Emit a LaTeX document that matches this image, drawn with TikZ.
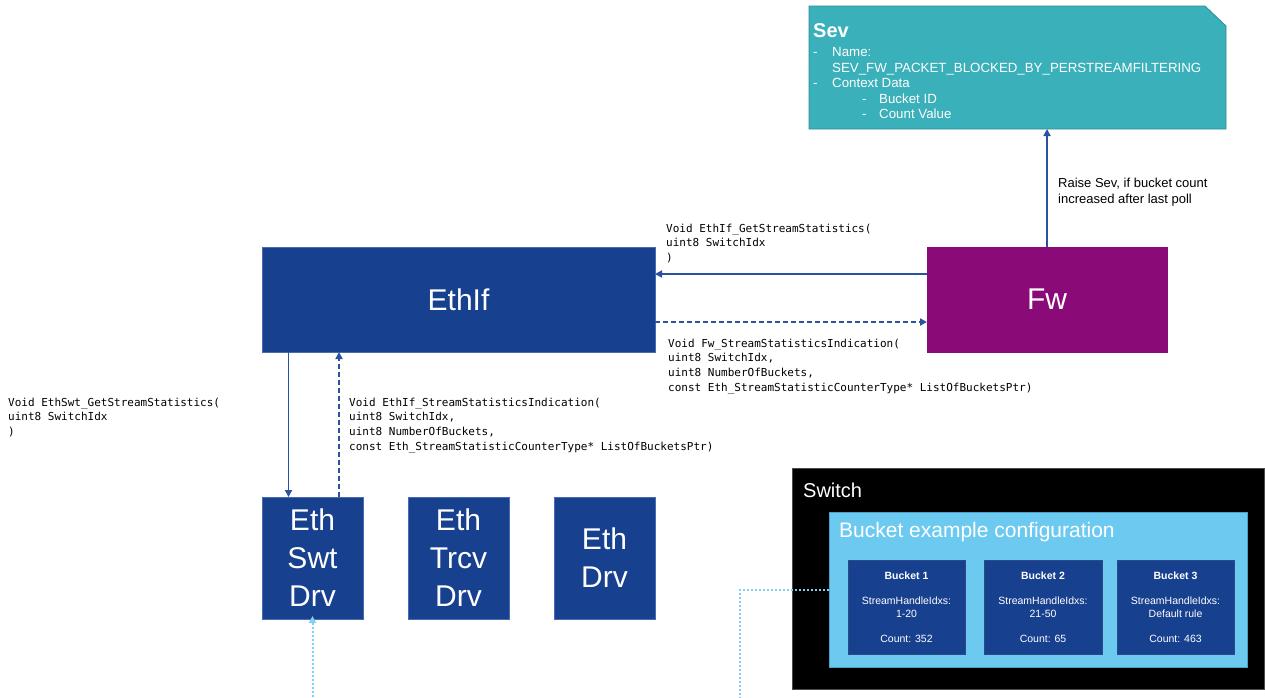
\documentclass[tikz,border=0pt]{standalone}
\usepackage{fontspec}
\setmainfont{Liberation Sans}
\newfontfamily\codefont{DejaVu Sans Mono}
\usetikzlibrary{arrows.meta,backgrounds,calc}

\definecolor{ethblue}{HTML}{17408F}
\definecolor{ethedge}{HTML}{4A6BB0}
\definecolor{bucketedge}{HTML}{2B4A8A}
\definecolor{fwpurple}{HTML}{8A0A78}
\definecolor{sevteal}{HTML}{3AB0BA}
\definecolor{sevedge}{HTML}{2E8C96}
\definecolor{cfgblue}{HTML}{6CCAF0}
\definecolor{cfgedge}{HTML}{4B9FC8}
\definecolor{linkblue}{HTML}{2A52A2}
\definecolor{dotblue}{HTML}{7FD0F2}

\tikzset{
  block/.style={fill=ethblue, draw=ethedge, line width=0.6pt, text=white,
    inner sep=0pt, outer sep=0pt, align=center,
    font=\fontsize{30}{38}\selectfont},
  bucket/.style={fill=ethblue, draw=bucketedge, line width=0.8pt, text=white,
    inner sep=0pt, outer sep=0pt, align=center,
    minimum width=117pt, minimum height=94pt,
    font=\fontsize{10.5}{12.7}\selectfont},
  sevtext/.style={text=white, inner sep=0pt, anchor=base west,
    font=\fontsize{13.3}{16}\selectfont},
  code/.style={inner sep=0pt, anchor=north west, align=left,
    font=\codefont\fontsize{11}{14.7}\selectfont},
  note/.style={inner sep=0pt, anchor=north west, align=left,
    font=\fontsize{13}{16}\selectfont},
  tip/.style={-{Triangle[length=7pt,width=7pt]}},
  call/.style={draw=linkblue, line width=1.7pt, tip},
  reply/.style={call, dash pattern=on 5pt off 3pt},
  feed/.style={draw=dotblue, line width=2pt, dash pattern=on 2pt off 2pt},
}

\begin{document}
\begin{tikzpicture}[x=1pt, y=-1pt]
\useasboundingbox (0,0) rectangle (1265,697);

% ---- Security event box with cut corner
\node[minimum width=417pt, minimum height=123pt, inner sep=0pt, outer sep=0pt]
  (sev) at (1017.5,67.5) {};
\filldraw[fill=sevteal, draw=sevedge, line width=0.8pt]
  (sev.north west) -- ([xshift=-21pt]sev.north east)
  -- ([yshift=-20pt]sev.north east) -- (sev.south east)
  -- (sev.south west) -- cycle;
\node[sevtext, font=\bfseries\fontsize{20}{24}\selectfont] (sevtitle) at (813,37) {Sev};
\node[sevtext] (d1) at (813,56) {-};
\node[sevtext] (l1) at (832,56) {Name:};
\node[sevtext] (l2) at (832,72) {SEV\_FW\_PACKET\_BLOCKED\_BY\_PERSTREAMFILTERING};
\node[sevtext] (d2) at (813,87.5) {-};
\node[sevtext] (l3) at (832,87.5) {Context Data};
\node[sevtext] (d3) at (862,103) {-};
\node[sevtext] (l4) at (879,103) {Bucket ID};
\node[sevtext] (d4) at (862,118.5) {-};
\node[sevtext] (l5) at (879,118.5) {Count Value};

% ---- Main modules
\node[block, minimum width=393pt, minimum height=105pt] (ethif) at (458.5,299.5) {EthIf};
\node[block, fill=fwpurple, draw=fwpurple, minimum width=240pt, minimum height=105pt]
  (fw) at (1047,299.5) {Fw};
\node[block, minimum width=101pt, minimum height=122pt] (swt) at (312.5,558) {Eth\\Swt\\Drv};
\node[block, minimum width=101pt, minimum height=122pt] (trcv) at (458.5,558) {Eth\\Trcv\\Drv};
\node[block, minimum width=101pt, minimum height=122pt] (drv) at (604.5,558) {Eth\\Drv};

% ---- Switch with bucket configuration
\node[fill=black, draw=black!70, line width=0.5pt, inner sep=0pt, outer sep=0pt,
  minimum width=472pt, minimum height=221pt] (switch) at (1028,578.5) {};
\node[text=white, inner sep=0pt, anchor=base west,
  font=\fontsize{20}{24}\selectfont] (switchlabel) at (803,497) {Switch};
\node[fill=cfgblue, draw=cfgedge, line width=1pt, inner sep=0pt, outer sep=0pt,
  minimum width=418pt, minimum height=155pt] (cfg) at (1038,589.5) {};
\node[text=white, inner sep=0pt, anchor=base west,
  font=\fontsize{21}{25}\selectfont] (cfglabel) at (839,537) {Bucket example configuration};
\node[bucket] (b1) at (906.5,607) {\textbf{Bucket 1}\\[13pt]StreamHandleIdxs:\\1-20\\[12pt]Count: 352};
\node[bucket, minimum width=118pt] (b2) at (1043,607) {\textbf{Bucket 2}\\[13pt]StreamHandleIdxs:\\21-50\\[12pt]Count: 65};
\node[bucket] (b3) at (1175.5,607) {\textbf{Bucket 3}\\[13pt]StreamHandleIdxs:\\Default rule\\[12pt]Count: 463};

% ---- Calls and indications
\draw[call] ([yshift=-27pt]fw.north west) -- ([yshift=-27pt]ethif.north east);
\draw[reply] ([yshift=30pt]ethif.south east) -- ([yshift=30pt]fw.south west);
\draw[call] (fw.north) -- (sev.south -| fw.north);
\draw[call] ([xshift=26.5pt]ethif.south west) -- ([xshift=26.5pt]swt.north west);
\draw[reply] ([xshift=77pt]swt.north west) -- ([xshift=77pt]ethif.south west);

% ---- Hardware feeds
\coordinate (swtfeed) at (312.5,697);
\coordinate (cfgdrop) at (740,697);
\draw[feed] (cfg.west) -| (cfgdrop);
\draw[feed, tip, shorten >=-3pt] (swtfeed) -- (swt.south);

% ---- Labels
\node[code] (getstats) at (666,223.5) {Void EthIf\_GetStreamStatistics(\\uint8 SwitchIdx\\)};
\node[code] (fwind) at (668,338.5) {Void Fw\_StreamStatisticsIndication(\\uint8 SwitchIdx,\\uint8 NumberOfBuckets,\\const Eth\_StreamStatisticCounterType* ListOfBucketsPtr)};
\node[code] (swtget) at (8,397.5) {Void EthSwt\_GetStreamStatistics(\\uint8 SwitchIdx\\)};
\node[code] (ethifind) at (349,397.5) {Void EthIf\_StreamStatisticsIndication(\\uint8 SwitchIdx,\\uint8 NumberOfBuckets,\\const Eth\_StreamStatisticCounterType* ListOfBucketsPtr)};
\node[note] (raise) at (1058,177.5) {Raise Sev, if bucket count\\increased after last poll};
\end{tikzpicture}
\end{document}
